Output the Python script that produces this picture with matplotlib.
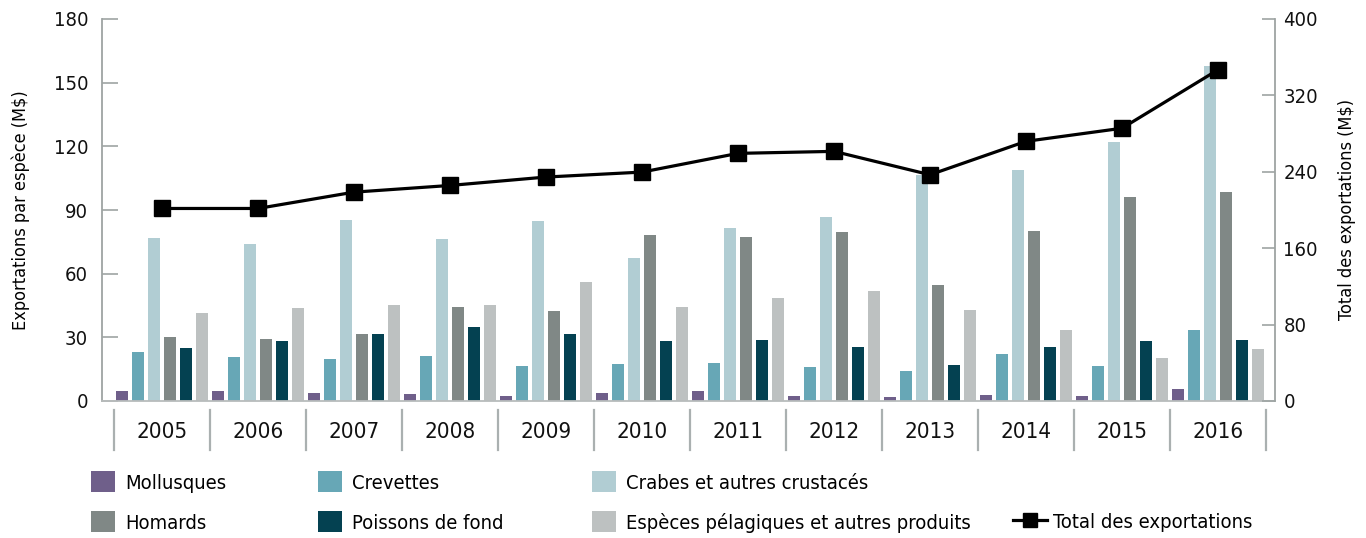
import matplotlib
matplotlib.use("Agg")
import matplotlib.pyplot as plt
import numpy as np
from matplotlib import font_manager as fm
from matplotlib.patches import Patch
from matplotlib.lines import Line2D

years = ["2005", "2006", "2007", "2008", "2009", "2010", "2011", "2012",
         "2013", "2014", "2015", "2016"]

mollusques = [4.7, 4.7, 3.8, 3.3, 2.4, 3.8, 4.7, 2.4, 1.9, 2.8, 2.4, 5.7]
crevettes = [23.1, 20.8, 19.8, 21.3, 16.5, 17.5, 18.0, 16.1, 14.2, 22.2, 16.5, 33.5]
crabes = [77.0, 74.2, 85.5, 76.1, 85.0, 67.6, 81.7, 86.9, 106.3, 108.7, 121.9, 157.8]
homards = [30.2, 29.3, 31.7, 44.4, 42.5, 78.4, 77.5, 79.4, 54.8, 80.3, 95.9, 98.3]
poissons = [25.0, 28.3, 31.7, 35.0, 31.7, 28.3, 28.8, 25.5, 17.0, 25.5, 28.3, 28.8]
pelagiques = [41.6, 43.9, 45.4, 45.4, 56.2, 44.4, 48.7, 52.0, 43.0, 33.5, 20.3, 24.6]
total = [201.6, 201.6, 218.7, 225.7, 234.5, 239.7, 259.3, 261.4, 236.9, 271.9, 285.6, 346.8]

series_names = ["Mollusques", "Crevettes", "Crabes et autres crustacés",
                "Homards", "Poissons de fond", "Espèces pélagiques et autres produits"]
series_vals = [mollusques, crevettes, crabes, homards, poissons, pelagiques]
colors = ["#6f5f8a", "#67a7b6", "#b1cdd3", "#808886", "#044151", "#bdc1c1"]
total_name = "Total des exportations"

left_ticks = [0, 30, 60, 90, 120, 150, 180]
right_ticks = [0, 80, 160, 240, 320, 400]

# ---- font selection: prefer a condensed sans ----
ttf = fm.fontManager.ttflist
names = {f.name for f in ttf}
cond_stretch = ("condensed", "semi-condensed", "extra-condensed", "ultra-condensed")
family = None
stretch = "normal"
if "Liberation Sans Narrow" in names:
    family = "Liberation Sans Narrow"
else:
    for f in ttf:
        st = f.stretch
        is_cond = (isinstance(st, str) and st in cond_stretch) or \
                  (isinstance(st, (int, float)) and st < 500)
        if (is_cond or "Narrow" in f.name or "Condensed" in f.name) and \
                "Mono" not in f.name and "Serif" not in f.name:
            family = f.name
            stretch = st if isinstance(st, str) else "condensed"
            break
condensed = family is not None
if family is None:
    family = "Liberation Sans" if "Liberation Sans" in names else "DejaVu Sans"
plt.rcParams['font.family'] = [family, 'DejaVu Sans']
plt.rcParams['font.stretch'] = stretch
sc = 1.0 if condensed else 0.92

W, H = 1366, 538
fig = plt.figure(figsize=(W / 100, H / 100), dpi=100)
ax = fig.add_axes([102 / W, 137 / H, (1275 - 102) / W, 382 / H])
ax2 = ax.twinx()

x = np.arange(len(years))
pitch = 1 / 6
bw = 0.125
for k, (vals, c) in enumerate(zip(series_vals, colors)):
    ax.bar(x + (k - 2.5) * pitch, vals, width=bw, color=c, zorder=2)

ax2.plot(x, total, color="black", lw=2.3, marker="s", markersize=12,
         markerfacecolor="black", zorder=3)

ax.set_xlim(-0.625, 11.594)
ax.set_ylim(0, 180)
ax2.set_ylim(0, 400)
ax.set_yticks(left_ticks)
ax2.set_yticks(right_ticks)
ax.set_xticks([])

grey = "#9ea4a3"
ax.spines["top"].set_visible(False)
ax2.spines["top"].set_visible(False)
ax.spines["right"].set_visible(False)
ax2.spines["left"].set_visible(False)
ax2.spines["bottom"].set_visible(False)
ax.spines["left"].set_color(grey)
ax.spines["left"].set_linewidth(1.3)
ax.spines["bottom"].set_color("#b8bcbc")
ax.spines["bottom"].set_linewidth(1.3)
ax2.spines["right"].set_color(grey)
ax2.spines["right"].set_linewidth(1.3)

tick_fs = 14.5 * sc
ax.tick_params(axis="y", direction="in", length=11.5, width=1.2, color=grey,
               pad=10, labelsize=tick_fs, labelcolor="#111111")
ax2.tick_params(axis="y", direction="in", length=9.4, width=1.2, color=grey,
                pad=6, labelsize=tick_fs, labelcolor="#111111")

lab_fs = 13 * sc
ax.set_ylabel("Exportations par espèce (M$)", fontsize=lab_fs)
ax2.set_ylabel(total_name + " (M$)", fontsize=lab_fs)
ax.yaxis.set_label_coords(-0.061, 0.5)
ax2.yaxis.set_label_coords(1.0537, 0.5)
ax2.yaxis.label.set_rotation(90)

trans = ax.get_xaxis_transform()
for j in range(len(years) + 1):
    ax.plot([j - 0.5, j - 0.5], [-0.0236, -0.128], transform=trans,
            color="#aab0b0", lw=1.6, clip_on=False)
for i, y in enumerate(years):
    ax.text(i, -0.081, y, transform=trans, ha="center", va="center",
            fontsize=16 * sc, color="#111111")

# ---- legend: each entry placed at its own spot ----
fs = 14.5 * sc
em = fs * 100 / 72
col_x = [91, 318, 592]
row_y = [482, 522]
layout = [[0, 1, 2], [3, 4, 5]]
for r, row in enumerate(layout):
    for cidx, k in enumerate(row):
        fig.legend([Patch(facecolor=colors[k], edgecolor="none")], [series_names[k]],
                   loc="center left",
                   bbox_to_anchor=(col_x[cidx] / W, 1 - row_y[r] / H),
                   frameon=False, fontsize=fs, handlelength=24 / em,
                   handleheight=24 / em, handletextpad=10 / em,
                   borderaxespad=0, borderpad=0)
fig.legend([Line2D([0], [0], color="black", lw=2.3, marker="s", markersize=10)],
           [total_name], loc="center left",
           bbox_to_anchor=(1013 / W, 1 - row_y[1] / H),
           frameon=False, fontsize=fs, handlelength=34 / em,
           handletextpad=6 / em, borderaxespad=0, borderpad=0)

fig.savefig("out.png", dpi=100)
